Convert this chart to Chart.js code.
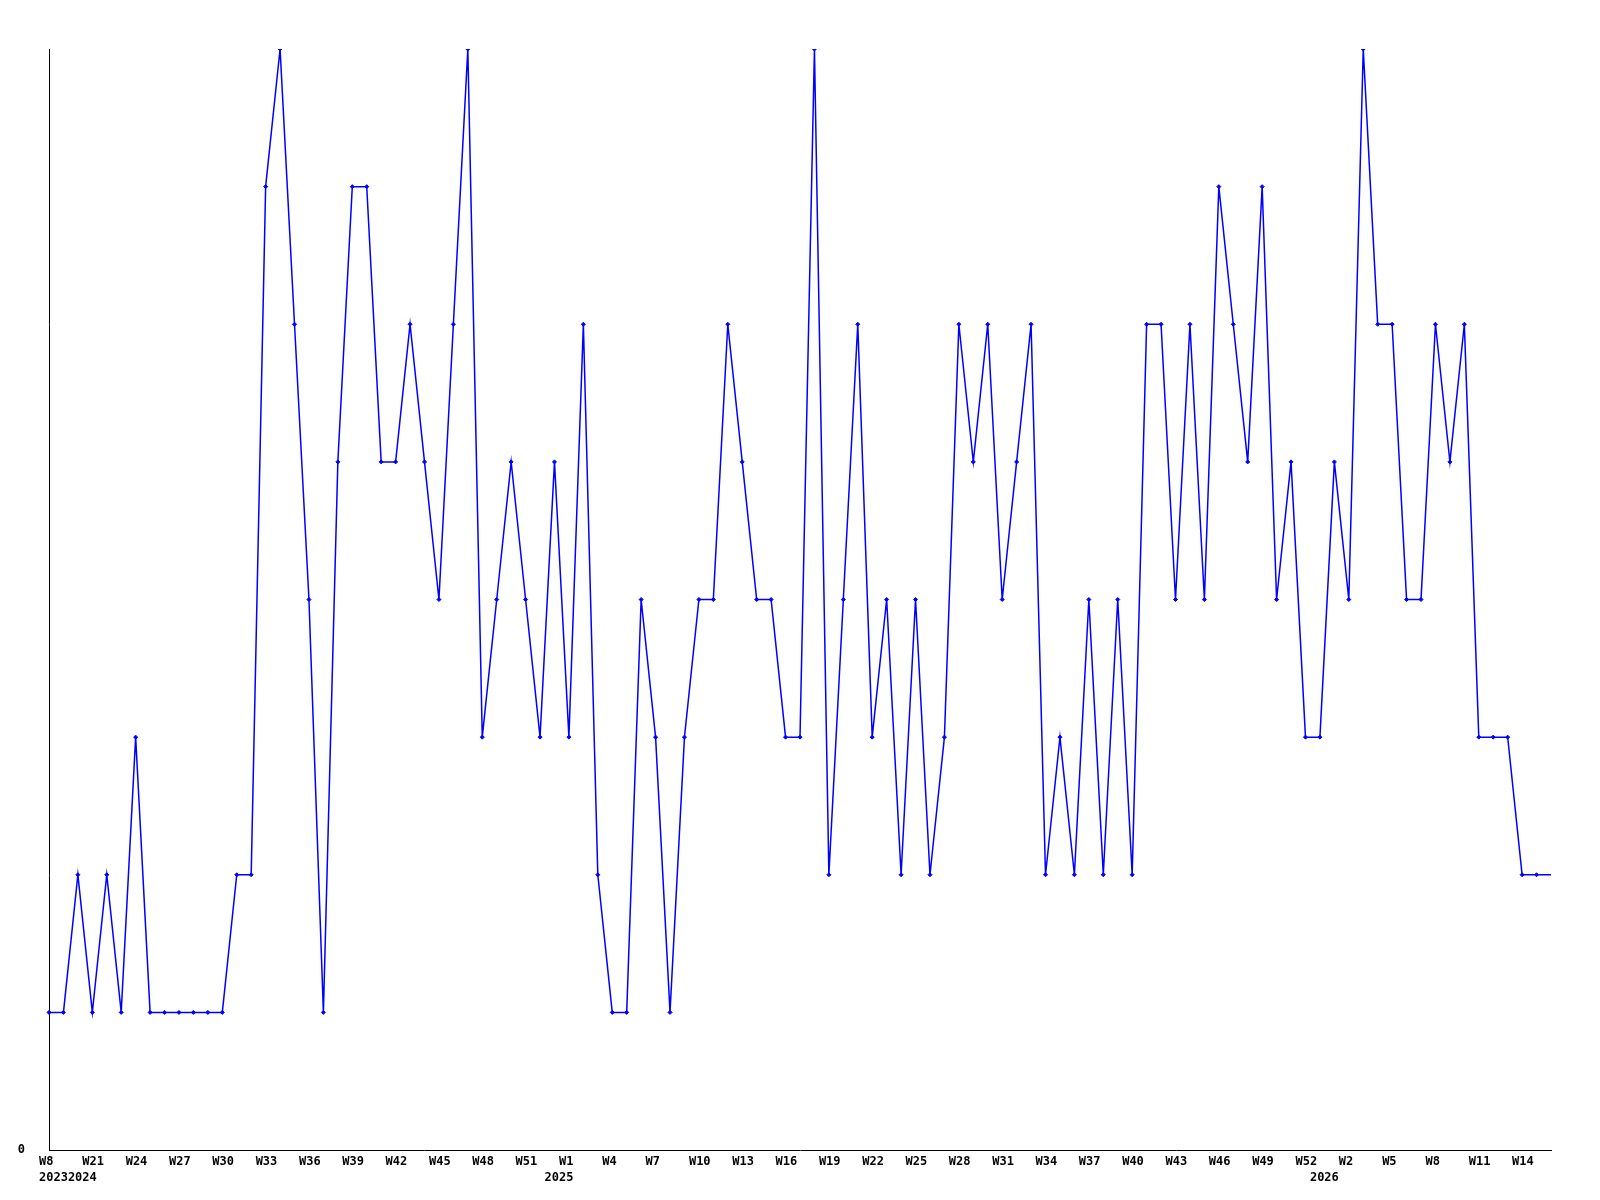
<!DOCTYPE html>
<html>
<head>
<meta charset="utf-8">
<title>Weekly count</title>
<script src="https://cdn.jsdelivr.net/npm/chart.js@4.4.0/dist/chart.umd.min.js"></script>
<style>
    html, body { margin: 0; padding: 0; background: #ffffff; }
    #wrap { width: 1600px; height: 1200px; }
</style>
</head>
<body>
<div id="wrap"><canvas id="weekly-chart" width="1600" height="1200"></canvas></div>
<script>
// ================================
// WEEKLY COUNT - LINE CHART
// ================================

// One value per week
const weeklyCounts = [
    1, 1, 2, 1, 2, 1, 3, 1, 1, 1, 1, 1, 1, 2, 2,
    7, 8, 6, 4, 1, 5, 7, 7, 5, 5, 6, 5, 4, 6, 8,
    3, 4, 5, 4, 3, 5, 3, 6, 2, 1, 1, 4, 3, 1, 3,
    4, 4, 6, 5, 4, 4, 3, 3, 8, 2, 4, 6, 3, 4, 2,
    4, 2, 3, 6, 5, 6, 4, 5, 6, 2, 3, 2, 4, 2, 4,
    2, 6, 6, 4, 6, 4, 7, 6, 5, 7, 4, 5, 3, 3, 5,
    4, 8, 6, 6, 4, 4, 6, 5, 6, 3, 3, 3, 2, 2, 2
];

// Week labels, shown on every third week
const weekTicks = [
    'W8', 'W21', 'W24', 'W27', 'W30', 'W33', 'W36', 'W39', 'W42', 'W45', 'W48', 'W51',
    'W1', 'W4', 'W7', 'W10', 'W13', 'W16', 'W19', 'W22', 'W25', 'W28', 'W31', 'W34',
    'W37', 'W40', 'W43', 'W46', 'W49', 'W52', 'W2', 'W5', 'W8', 'W11', 'W14'
];
const tickEvery = 3;

// Year labels and the week index where each one starts
const yearTicks = ['2023', '2024', '2025', '2026'];
const yearTickAt = [0, 2, 35, 88];

const categories = weeklyCounts.map((v, i) => i);

const LINE_COLOR = '#0000ff';
const AXIS_COLOR = '#000000';
const TICK_FONT = { family: "'DejaVu Sans Mono', monospace", size: 12, weight: 'bold', lineHeight: 1.3 };

/**
 * Two line label for a week: week name on top, year below
 */
function xTickLabel(index) {
    const week = index % tickEvery === 0 ? (weekTicks[index / tickEvery] || '') : '';
    const yi = yearTickAt.indexOf(index);
    const year = yi >= 0 ? yearTicks[yi] : '';
    if (!week && !year) return '';
    return [week, year];
}

function renderWeeklyChart() {
    const ctx = document.getElementById('weekly-chart').getContext('2d');
    const lastIndex = weeklyCounts.length - 1;

    new Chart(ctx, {
        type: 'line',
        data: {
            labels: categories,
            datasets: [{
                data: weeklyCounts,
                borderColor: LINE_COLOR,
                backgroundColor: LINE_COLOR,
                borderWidth: 1.5,
                pointStyle: 'rectRot',
                pointRadius: c => c.dataIndex === lastIndex ? 0 : 2,
                pointBorderWidth: 1,
                pointBorderColor: LINE_COLOR,
                pointBackgroundColor: LINE_COLOR,
                tension: 0,
                fill: false
            }]
        },
        options: {
            responsive: false,
            animation: false,
            layout: {
                padding: { top: 49, right: 49, left: 0, bottom: 0 }
            },
            plugins: {
                legend: { display: false },
                tooltip: { enabled: false }
            },
            scales: {
                x: {
                    type: 'category',
                    offset: false,
                    grid: { display: false, drawTicks: false },
                    border: { display: true, color: AXIS_COLOR, width: 1 },
                    ticks: {
                        autoSkip: false,
                        maxRotation: 0,
                        minRotation: 0,
                        align: 'start',
                        labelOffset: -10,
                        padding: 4,
                        color: AXIS_COLOR,
                        font: TICK_FONT,
                        callback: function(value, index) {
                            return xTickLabel(index);
                        }
                    },
                    afterFit: function(scale) { scale.height = 50; }
                },
                y: {
                    min: 0,
                    max: 8,
                    grid: { display: false, drawTicks: false },
                    border: { display: true, color: AXIS_COLOR, width: 1 },
                    ticks: {
                        stepSize: 1,
                        padding: 24,
                        color: AXIS_COLOR,
                        font: TICK_FONT,
                        callback: function(value) {
                            return value === 0 ? '0' : '';
                        }
                    },
                    afterFit: function(scale) { scale.width = 49; }
                }
            }
        }
    });
}

renderWeeklyChart();
</script>
</body>
</html>
